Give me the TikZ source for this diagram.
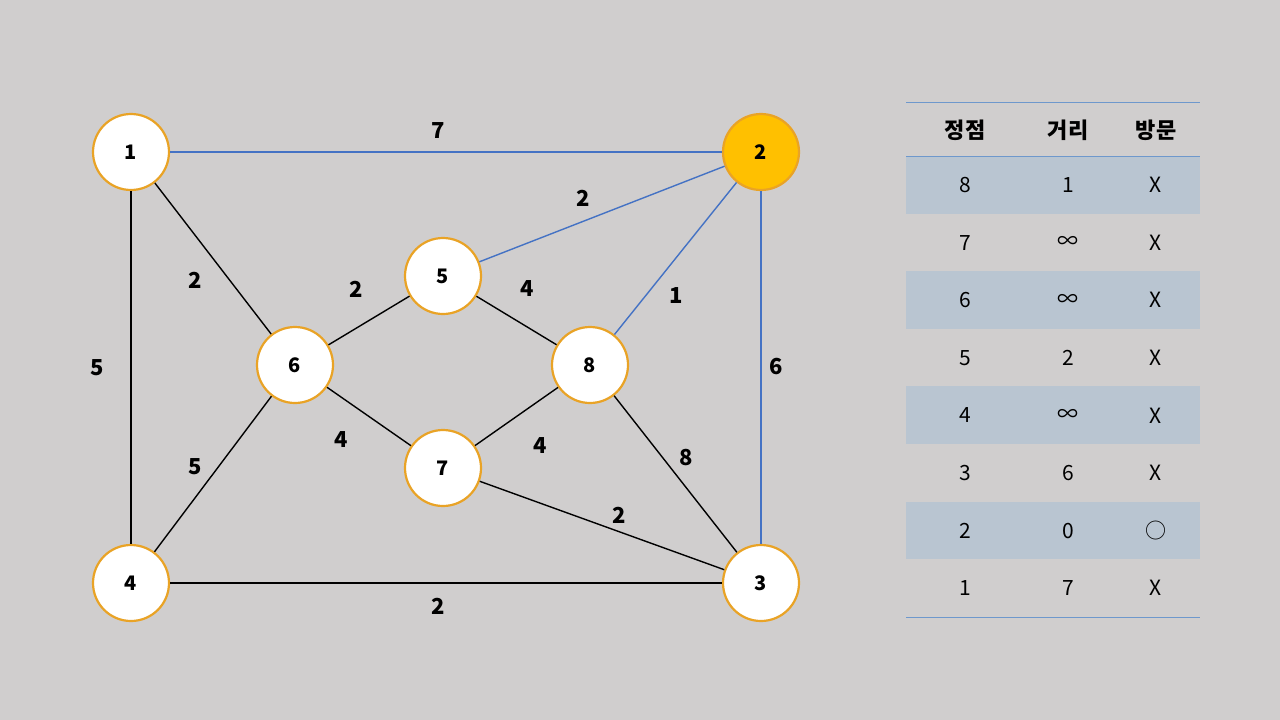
\documentclass[tikz,border=0pt]{standalone}
\usepackage{fontspec}
\setmainfont{Noto Sans CJK KR}
\definecolor{bg}{HTML}{D0CECE}
\definecolor{eblue}{HTML}{4472C4}
\definecolor{ring}{HTML}{E9A326}
\definecolor{gold}{HTML}{FFC000}
\definecolor{rowshade}{HTML}{B9C5D1}
\definecolor{tline}{HTML}{6E98CC}
\tikzset{
  vert/.style={circle, draw=ring, line width=2.2pt, fill=white, minimum size=76pt, inner sep=0pt, font=\fontsize{20}{22}\selectfont\bfseries},
  blk/.style={draw=black, line width=1.4pt},
  blu/.style={draw=eblue, line width=1.4pt},
  wlab/.style={font=\fontsize{22}{24}\selectfont\bfseries, inner sep=0pt},
  cell/.style={font=\fontsize{21}{24}\selectfont, inner sep=0pt},
  head/.style={font=\fontsize{22}{24}\selectfont\bfseries, inner sep=0pt},
}
\begin{document}
\begin{tikzpicture}[x=1pt,y=-1pt]
\fill[bg] (0,0) rectangle (1280,720);
\useasboundingbox (0,0) rectangle (1280,720);
% table shading
\foreach \r in {0,2,4,6}{
  \fill[rowshade] (906,{156+57.6*\r}) rectangle (1200,{156+57.6*(\r+1)});
}
\draw[tline, line width=0.9pt] (906,102) -- (1200,102);
\draw[tline, line width=0.9pt] (906,156) -- (1200,156);
\draw[tline, line width=0.9pt] (906,617) -- (1200,617);
\node[head] (h1) at (965,130) {정점};
\node[head] (h2) at (1068,130) {거리};
\node[head] (h3) at (1156,130) {방문};
\foreach \v/\d/\m [count=\i from 0] in {8/1/X,7/∞/X,6/∞/X,5/2/X,4/∞/X,3/6/X,2/0/○,1/7/X}{
  \node[cell] (tv\i) at (965,{185+57.6*\i}) {\v};
  \node[cell] (td\i) at (1068,{185+57.6*\i}) {\d};
  \node[cell] (tm\i) at (1156,{185+57.6*\i}) {\m};
}
% vertices
\node[vert] (n1) at (131,152) {1};
\node[vert, fill=gold] (n2) at (761,152) {2};
\node[vert] (n3) at (761,583) {3};
\node[vert] (n4) at (131,583) {4};
\node[vert] (n5) at (443,276) {5};
\node[vert] (n6) at (295,365) {6};
\node[vert] (n7) at (443,468) {7};
\node[vert] (n8) at (590,365) {8};
% edges
\draw[blu] (n1) -- (n2);
\draw[blu] (n2) -- (n5);
\draw[blu] (n2) -- (n8);
\draw[blu] (n2) -- (n3);
\draw[blk] (n1) -- (n6);
\draw[blk] (n1) -- (n4);
\draw[blk] (n6) -- (n5);
\draw[blk] (n6) -- (n7);
\draw[blk] (n6) -- (n4);
\draw[blk] (n5) -- (n8);
\draw[blk] (n7) -- (n8);
\draw[blk] (n8) -- (n3);
\draw[blk] (n7) -- (n3);
\draw[blk] (n4) -- (n3);
% weights
\node[wlab] (w12) at (438,131) {7};
\node[wlab] (w25) at (583,198) {2};
\node[wlab] (w28) at (676,296) {1};
\node[wlab] (w23) at (776,367) {6};
\node[wlab] (w16) at (195,280) {2};
\node[wlab] (w14) at (97,368) {5};
\node[wlab] (w65) at (356,289) {2};
\node[wlab] (w58) at (527,289) {4};
\node[wlab] (w67) at (341,440) {4};
\node[wlab] (w78) at (540,446) {4};
\node[wlab] (w64) at (195,467) {5};
\node[wlab] (w83) at (686,458) {8};
\node[wlab] (w73) at (619,515) {2};
\node[wlab] (w43) at (438,606) {2};
\end{tikzpicture}
\end{document}
